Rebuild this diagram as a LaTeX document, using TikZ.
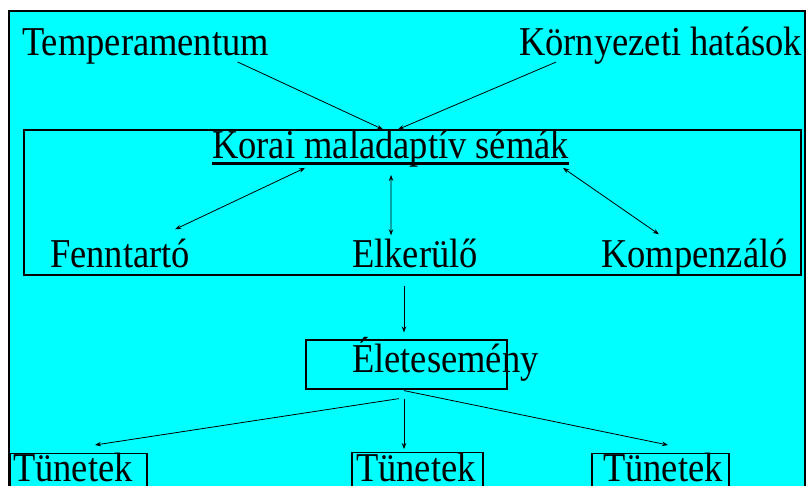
\documentclass[tikz,border=0pt]{standalone}
\usepackage{fontspec}
\setmainfont{Liberation Serif}[FakeStretch=0.89]
\usetikzlibrary{arrows.meta}
\definecolor{bg}{RGB}{0,255,255}
\begin{document}
\begin{tikzpicture}[x=1pt,y=-1pt,
  lbl/.style={inner sep=0pt, anchor=base west, font=\fontsize{41}{45}\selectfont},
  arr/.style={line width=0.8pt, -{Stealth[length=6pt,width=4.5pt]}},
  darr/.style={line width=0.8pt, {Stealth[length=6pt,width=4.5pt]}-{Stealth[length=6pt,width=4.5pt]}},
  box/.style={draw, line width=1.2pt, inner sep=0pt}]
\useasboundingbox (0,0) rectangle (808,485);
\fill[white] (0,0) rectangle (808,485);
\clip (0,0) rectangle (808,485);
\draw[line width=2pt, fill=bg] (9,11) rectangle (805,500);
% boxes
\node[box, minimum width=777pt, minimum height=145pt] (schema) at (412.5,202.5) {};
\node[box, minimum width=201pt, minimum height=49pt] (eletbox) at (406.5,364.5) {};
\node[box, minimum width=137pt, minimum height=60pt, anchor=north] (t1box) at (78.5,453) {};
\node[box, minimum width=131pt, minimum height=60pt, anchor=north] (t2box) at (417.5,452) {};
\node[box, minimum width=137pt, minimum height=60pt, anchor=north] (t3box) at (660.5,453) {};
% texts
\node[lbl] (temp) at (22,55) {Temperamentum};
\node[lbl] (env) at (519,55) {Környezeti hatások};
\node[lbl] (korai) at (212,158) {Korai maladaptív sémák};
\draw[line width=3pt] ([yshift=-5.5pt]korai.base west) -- ([yshift=-5.5pt]korai.base east);
\node[lbl] (fenn) at (50,267) {Fenntartó};
\node[lbl] (elk) at (352,267) {Elkerülő};
\node[lbl] (komp) at (601,267) {Kompenzáló};
\node[lbl] (elet) at (352,372) {Életesemény};
\node[lbl] (t1) at (13,481) {Tünetek};
\node[lbl] (t2) at (356,481) {Tünetek};
\node[lbl] (t3) at (603,481) {Tünetek};
% connectors
\draw[arr] ([xshift=92pt,yshift=2pt]temp.south) -- ([xshift=-29.5pt]schema.north);
\draw[arr] ([xshift=-104.5pt,yshift=2pt]env.south) -- ([xshift=-14.5pt]schema.north);
\draw[darr] ([xshift=-85.5pt,yshift=-1pt]korai.south) -- ([xshift=55pt,yshift=9pt]fenn.north);
\draw[darr] ([xshift=0.5pt,yshift=-8pt]korai.south) -- ([xshift=-24pt,yshift=3pt]elk.north);
\draw[darr] ([xshift=172.5pt,yshift=-1pt]korai.south) -- ([xshift=-35.5pt,yshift=4pt]komp.north);
\draw[arr] ([xshift=-8.5pt,yshift=-10pt]schema.south) -- ([xshift=-2.5pt,yshift=7pt]eletbox.north);
\draw[arr] ([xshift=-7.5pt,yshift=-9pt]eletbox.south) -- ([xshift=16.5pt,yshift=8pt]t1box.north);
\draw[arr] ([xshift=-2.5pt,yshift=-9pt]eletbox.south) -- ([xshift=-13.5pt,yshift=3pt]t2box.north);
\draw[arr] ([xshift=-2.5pt,yshift=-1pt]eletbox.south) -- ([xshift=7.5pt,yshift=8pt]t3box.north);
\end{tikzpicture}
\end{document}
